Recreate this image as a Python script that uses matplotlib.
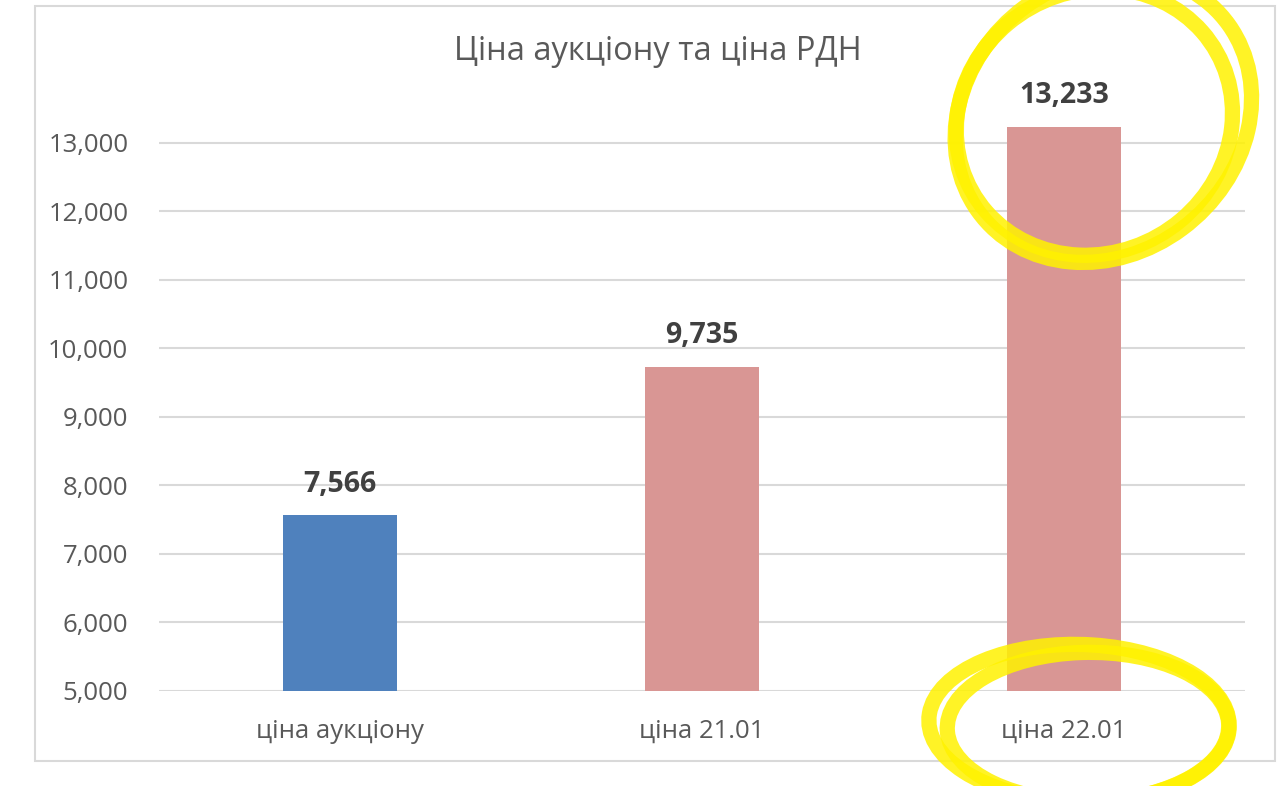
import matplotlib
matplotlib.use("Agg")
import matplotlib.pyplot as plt
from matplotlib.patches import Rectangle, Ellipse
from matplotlib.ticker import FuncFormatter

# chart data
categories = ["ціна аукціону", "ціна 21.01", "ціна 22.01"]
prices = [7566, 9735, 13233]
bar_colors = ["#4F81BD", "#D99694", "#D99694"]
y_ticks = [5000, 6000, 7000, 8000, 9000, 10000, 11000, 12000, 13000]

plt.rcParams["font.family"] = ["Open Sans", "DejaVu Sans"]

fig = plt.figure(figsize=(12.8, 7.86), dpi=100, facecolor="white")

# chart frame
fig.patches.append(Rectangle((0.0273, 0.0318), 0.9687, 0.9606, transform=fig.transFigure,
                             fill=False, edgecolor="#D9D9D9", linewidth=1.5, zorder=0))

ax = fig.add_axes([0.1242, 0.1209, 0.8485, 0.7234])
x = range(len(categories))
ax.bar(x, prices, width=0.315, color=bar_colors, zorder=3)
ax.set_xlim(-0.5, len(categories) - 0.5)
ax.set_ylim(5000, 13300)

ax.set_yticks(y_ticks)
ax.yaxis.set_major_formatter(FuncFormatter(lambda v, p: f"{int(v):,}"))
ax.set_xticks(list(x))
ax.set_xticklabels(categories)
ax.tick_params(axis="y", length=0, pad=22, labelsize=18.5, labelcolor="#595959")
ax.tick_params(axis="x", length=0, pad=20, labelsize=18.5, labelcolor="#595959")
ax.grid(axis="y", color="#D9D9D9", linewidth=1.5, zorder=0)
for s in ax.spines.values():
    s.set_visible(False)

for xi, v in zip(x, prices):
    ax.annotate(f"{v:,}", (xi, v), xytext=(0, 12), textcoords="offset points",
                ha="center", va="bottom", fontsize=20.5, fontweight="bold",
                color="#404040", annotation_clip=False)

fig.text(0.514, 0.935, "Ціна аукціону та ціна РДН", ha="center", va="center",
         fontsize=23.5, color="#595959")

# yellow highlighter marks around the last bar
hl = dict(fill=False, edgecolor="#FFF200", alpha=0.85, linewidth=11,
          transform=fig.transFigure, zorder=10)
fig.patches.append(Ellipse((0.862, 0.85), 0.228, 0.37, angle=-8, **hl))
fig.patches.append(Ellipse((0.855, 0.845), 0.215, 0.34, angle=-4, **hl))
fig.patches.append(Ellipse((0.843, 0.08), 0.235, 0.2, angle=-6, **hl))
fig.patches.append(Ellipse((0.85, 0.075), 0.22, 0.19, angle=3, **hl))

fig.savefig("out.png", dpi=100, facecolor="white")
